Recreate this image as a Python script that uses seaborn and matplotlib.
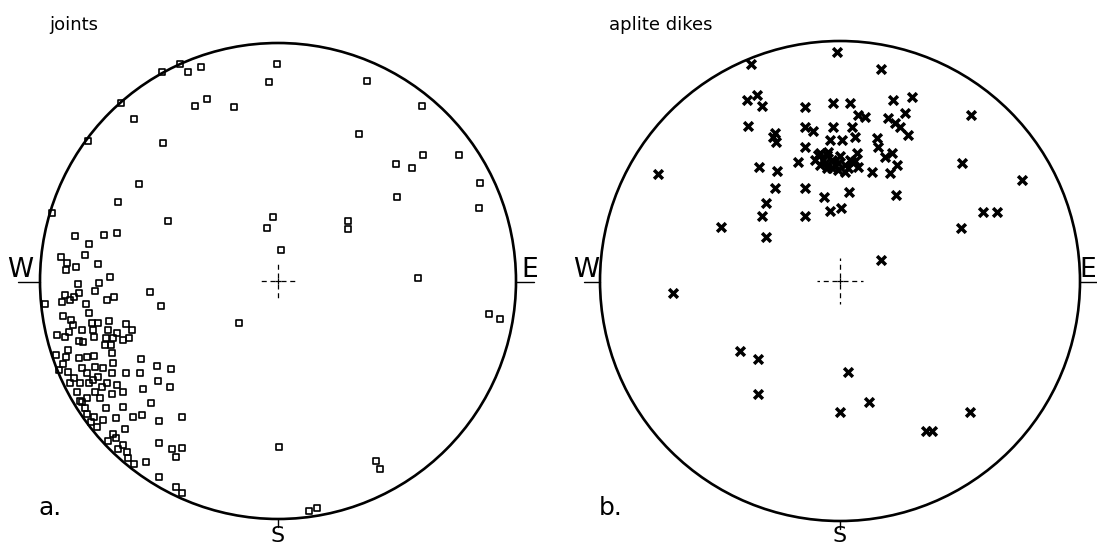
import matplotlib
matplotlib.use("Agg")
import matplotlib.pyplot as plt
from matplotlib.patches import Circle
import seaborn as sns

# Poles read off the two equal-area nets, in net units
# (east, north), primitive circle radius ~238-240 units
joint_east = [
    -1, -9, -77, -90, -98, -116, -157, -144, -190, -83,
    -71, -44, -115, -139, -160, -110, -226, -5, -11, 3,
    -203, -189, -174, -161, -217, -211, -193, -202, -180, -212,
    89, 144, 81, 118, 134, 145, 181, 202, 201, 119,
    70, 70, 140, -39, 211, 222, 1, 98, 102, 31,
    39, -200, -179, -168, -183, -213, -204, -199, -216, -208,
    -171, -164, -128, -117, -233, -192, -189, -215, -207, -186,
    -180, -169, -152, -146, -205, -196, -209, -185, -170, -161,
    -221, -213, -184, -172, -165, -155, -149, -199, -195, -173,
    -167, -210, -166, -222, -212, -199, -191, -184, -137, -165,
    -215, -196, -183, -175, -121, -107, -210, -219, -191, -180,
    -166, -152, -138, -204, -198, -189, -176, -161, -208, -120,
    -108, -135, -201, -183, -155, -166, -191, -178, -127, -198,
    -185, -193, -172, -155, -191, -184, -175, -162, -145, -136,
    -119, -96, -187, -181, -153, -165, -162, -170, -155, -119,
    -106, -96, -102, -160, -151, -150, -144, -132, -119, -102,
    -96, -171, -196,
]
joint_north = [
    217, 199, 214, 209, 217, 209, 178, 162, 140, 175,
    182, 174, 138, 97, 79, 60, 68, 64, 53, 31,
    45, 37, 46, 48, 24, 18, 26, 14, 17, 11,
    200, 175, 147, 117, 113, 126, 126, 98, 73, 84,
    60, 52, 3, -42, -33, -38, -166, -180, -188, -230,
    -227, -3, -2, 4, -10, -14, -16, -12, -21, -19,
    -19, -16, -11, -25, -23, -23, -32, -35, -39, -42,
    -42, -40, -43, -49, -44, -49, -51, -49, -49, -52,
    -54, -56, -56, -57, -57, -59, -57, -60, -61, -64,
    -64, -69, -72, -74, -76, -77, -76, -75, -78, -82,
    -83, -87, -86, -87, -85, -88, -91, -89, -92, -96,
    -92, -92, -92, -97, -102, -102, -106, -104, -102, -100,
    -106, -108, -111, -111, -111, -113, -117, -117, -122, -120,
    -99, -127, -127, -126, -133, -136, -139, -137, -136, -134,
    -140, -136, -141, -146, -148, -153, -157, -160, -164, -162,
    -168, -167, -176, -168, -171, -177, -183, -181, -196, -206,
    -212, -102, -121,
]

dike_east = [
    -89, -3, 41, -93, -83, -78, -92, -65, -67, -64,
    -35, -7, 10, 18, 25, 53, 72, 48, 55, 65,
    -35, -27, -7, 12, 15, -10, 2, 37, 60, 68,
    -35, -22, -13, -8, -2, 5, -2, 5, 12, 18,
    17, 32, 38, 45, 52, 57, 50, -42, -20, -13,
    -81, -63, -65, -35, -74, -78, -74, -35, -16, -10,
    1, 9, 56, -182, -119, 131, 122, 182, 143, 157,
    121, 41, -17, -5, 10, -167, -100, -82, -82, 8,
    0, 29, 86, 92, 130, -20, -15, -25, 0, -8,
    8, 15, -12,
]
dike_north = [
    217, 229, 212, 181, 186, 175, 155, 148, 144, 139,
    174, 178, 178, 166, 164, 181, 184, 163, 158, 168,
    154, 150, 154, 154, 144, 141, 141, 143, 154, 146,
    134, 126, 126, 121, 118, 116, 111, 109, 119, 114,
    128, 109, 134, 124, 128, 116, 108, 119, 116, 113,
    114, 110, 93, 93, 78, 65, 44, 65, 84, 70,
    73, 89, 86, 107, 54, 166, 118, 101, 69, 69,
    53, 21, 121, 116, 121, -12, -70, -78, -113, -91,
    -131, -121, -150, -150, -131, 128, 118, 121, 125, 113,
    113, 120, 129,
]

panel_titles = ["joints", "aplite dikes"]
panel_letters = ["a.", "b."]

sns.set_style("white")
plt.rcParams["font.family"] = ["DejaVu Sans"]
plt.rcParams["text.color"] = "black"

fig = plt.figure(figsize=(10.97, 5.48), dpi=100)
ax_a = fig.add_axes([0, 0, 548 / 1097, 1])
ax_b = fig.add_axes([548 / 1097, 0, 549 / 1097, 1])

# axis windows chosen so one net unit is one pixel
ax_a.set_xlim(-278, 270)
ax_a.set_ylim(-267, 281)
ax_b.set_xlim(-292, 257)
ax_b.set_ylim(-267, 281)


def draw_net(ax, radius, arm, title, letter, w_tick, e_x, e_ha):
    ax.set_axis_off()
    ax.add_patch(Circle((0, 0), radius, fill=False, lw=1.9, color="black"))
    # W / E / S ticks
    ax.plot([-radius - w_tick, -radius], [-1, -1], color="black", lw=1.0)
    ax.plot([radius, radius + 18], [-1, -1], color="black", lw=1.0)
    ax.plot([0, 0], [-radius, -radius - 8], color="black", lw=1.0)
    ax.text(-radius - w_tick + 2, -2, "W", ha="center", va="bottom",
            fontsize=19, color="black")
    ax.text(e_x, -2, "E", ha=e_ha, va="bottom", fontsize=19, color="black")
    ax.text(0, -265, "S", ha="center", va="bottom", fontsize=16,
            color="black")
    # dashed centre cross
    for sgn in (-1, 1):
        ax.plot([sgn * 3, sgn * arm], [0, 0], color="black", lw=0.9,
                linestyle=(0, (4, 3)))
        ax.plot([0, 0], [sgn * 3, sgn * arm], color="black", lw=0.9,
                linestyle=(0, (4, 3)))
    ax.plot(0, 0, marker="+", ms=4, color="black", mew=0.9)
    ax.text(-radius + 9, 251, title, ha="left", va="baseline", fontsize=13,
            color="black")
    ax.text(-radius - 1, -234, letter, ha="left", va="baseline", fontsize=18,
            color="black")


draw_net(ax_a, 238, 17, panel_titles[0], panel_letters[0], 22, 252, "center")
draw_net(ax_b, 240, 23, panel_titles[1], panel_letters[1], 16, 256, "right")

sns.scatterplot(x=joint_east, y=joint_north, marker="s", s=22,
                facecolor="none", edgecolor="black", linewidth=1.2,
                ax=ax_a, legend=False)
sns.scatterplot(x=dike_east, y=dike_north, marker="x", s=40,
                color="black", linewidth=2.5, ax=ax_b, legend=False)

for ax in (ax_a, ax_b):
    ax.set_axis_off()

fig.savefig("out.png", dpi=100)
plt.close(fig)
